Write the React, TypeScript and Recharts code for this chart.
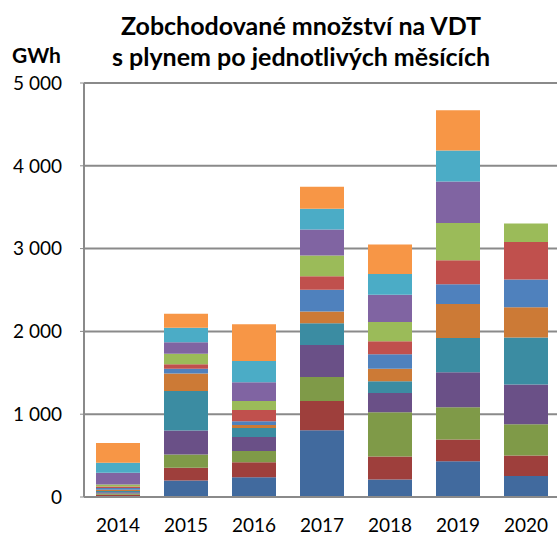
import { BarChart, Bar, XAxis, YAxis, CartesianGrid } from 'recharts';

const years = ['2014', '2015', '2016', '2017', '2018', '2019', '2020'];
const months = ['leden', 'únor', 'březen', 'duben', 'květen', 'červen', 'červenec', 'srpen', 'září', 'říjen', 'listopad', 'prosinec'];

// GWh per month, one value per year (2014..2020)
const jan = [8, 200, 238, 806, 210, 431, 254];
const feb = [20, 152, 181, 354, 278, 262, 246];
const mar = [15, 162, 137, 290, 535, 390, 378];
const apr = [15, 290, 169, 387, 233, 423, 480];
const may = [15, 475, 109, 262, 141, 414, 568];
const jun = [15, 214, 36, 141, 153, 411, 366];
const jul = [20, 56, 44, 262, 173, 238, 335];
const aug = [20, 53, 137, 165, 157, 290, 454];
const sep = [24, 128, 109, 250, 233, 451, 222];
const oct = [141, 138, 225, 314, 330, 500, null];
const nov = [121, 176, 258, 250, 249, 374, null];
const dec = [237, 169, 443, 266, 358, 487, null];

const yTicks = [0, 1000, 2000, 3000, 4000, 5000];

const monthValues = [jan, feb, mar, apr, may, jun, jul, aug, sep, oct, nov, dec];
const colors = [
  '#416a9e', '#9e3f3c', '#7f9a48', '#6a5087', '#3b8ca2', '#cc7a36',
  '#4f81bd', '#c0504d', '#9bbb59', '#8064a2', '#4bacc6', '#f79646',
];

const data = years.map((year, i) => {
  const row: Record<string, string | number | null> = { year };
  months.forEach((m, j) => {
    row[m] = monthValues[j][i];
  });
  return row;
});

const fmt = (v: number) => String(v).replace(/\B(?=(\d{3})+(?!\d))/g, ' ');

const font = 'Lato, "Open Sans", sans-serif';

export default function App() {
  return (
    <div style={{ position: 'absolute', left: 0, top: 0, width: 557, height: 536, fontFamily: font, background: '#fff' }}>
      <div
        style={{
          position: 'absolute',
          left: 301,
          top: 10,
          transform: 'translateX(-50%)',
          whiteSpace: 'nowrap',
          textAlign: 'center',
          fontWeight: 'bold',
          fontSize: 25,
          lineHeight: '31px',
          color: '#000',
        }}
      >
        <div>Zobchodované množství na VDT</div>
        <div>s plynem po jednotlivých měsících</div>
      </div>
      <div style={{ position: 'absolute', left: 12, top: 44, fontWeight: 'bold', fontSize: 21, lineHeight: 1, color: '#000' }}>
        GWh
      </div>
      <BarChart
        width={557}
        height={536}
        data={data}
        margin={{ top: 83, right: -3, bottom: 0, left: 0 }}
      >
        <CartesianGrid vertical={false} stroke="#8a8a8a" strokeWidth={2} />
        <XAxis
          dataKey="year"
          height={39}
          tickLine={false}
          tickSize={0}
          tickMargin={22}
          axisLine={{ stroke: '#8a8a8a', strokeWidth: 2 }}
          tick={{ fill: '#000', fontSize: 19, fontFamily: font }}
        />
        <YAxis
          width={84}
          domain={[0, 5000]}
          ticks={yTicks}
          tickFormatter={fmt}
          tickSize={4}
          tickMargin={18}
          tickLine={{ stroke: '#8a8a8a' }}
          axisLine={{ stroke: '#8a8a8a', strokeWidth: 2 }}
          tick={{ fill: '#000', fontSize: 19, fontFamily: font }}
        />
        {months.map((m, j) => (
          <Bar key={m} dataKey={m} stackId="a" fill={colors[j]} barSize={44} isAnimationActive={false} />
        ))}
      </BarChart>
    </div>
  );
}
